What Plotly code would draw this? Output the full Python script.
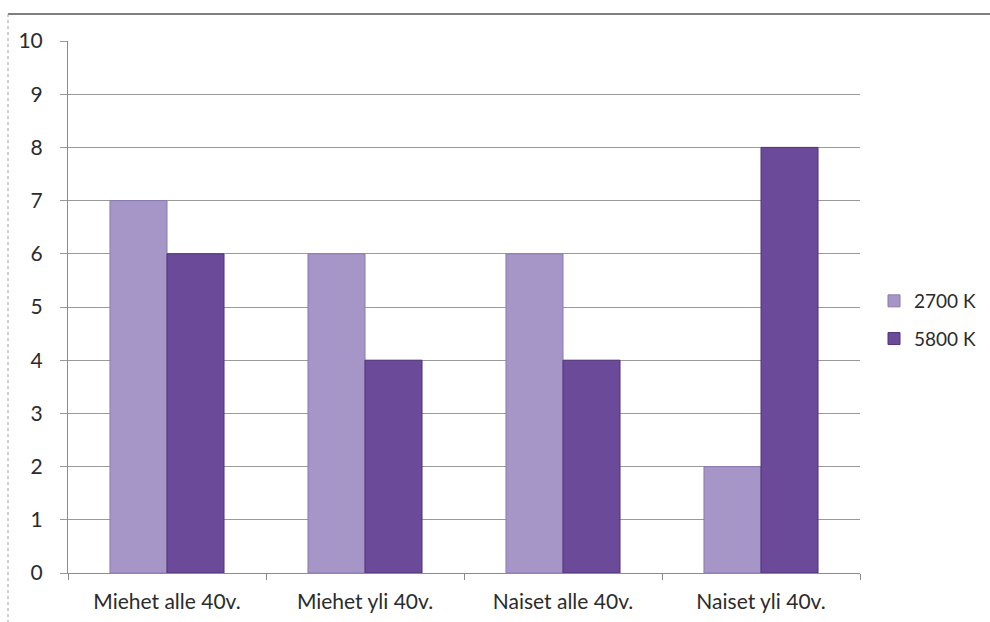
import plotly.graph_objects as go

# Survey groups and the two lighting conditions
categories = ["Miehet alle 40v.", "Miehet yli 40v.", "Naiset alle 40v.", "Naiset yli 40v."]
series_names = ["2700 K", "5800 K"]
values_2700 = [7, 6, 6, 2]
values_5800 = [6, 4, 4, 8]
y_ticks = list(range(0, 11))

colors = ["#A696C7", "#6B4B99"]
edge_colors = ["#8A7AAE", "#4F3578"]

fig = go.Figure()
for name, vals, col, edge in zip(series_names, [values_2700, values_5800], colors, edge_colors):
    fig.add_trace(go.Bar(
        x=categories, y=vals, name=name, legendgroup=name,
        marker=dict(color=col, line=dict(color=edge, width=1)),
    ))

font_family = "Lato, 'Open Sans', sans-serif"
W, H = 990, 622
L, R, T, B = 68, 130, 41, 49
pw, ph = W - L - R, H - T - B

def px_to_paper_x(px):
    return (px - L) / pw

def px_to_paper_y(py):
    return (H - B - py) / ph

fig.update_layout(
    width=W, height=H,
    margin=dict(l=L, r=R, t=T, b=B, autoexpand=False),
    paper_bgcolor="white", plot_bgcolor="white",
    barmode="group", bargap=0.424, bargroupgap=0,
    font=dict(family=font_family, size=20, color="#2b2b2b"),
    showlegend=True,
    legend=dict(
        x=px_to_paper_x(874), y=px_to_paper_y(320), xanchor="left", yanchor="middle",
        font=dict(size=19, color="#2b2b2b"), bgcolor="rgba(0,0,0,0)",
        itemwidth=30, traceorder="grouped", tracegroupgap=10,
    ),
    xaxis=dict(
        type="category", showgrid=False, showline=True, linecolor="#8c8c8c", linewidth=1,
        ticks="outside", tickson="boundaries", ticklen=6, tickcolor="#8c8c8c",
        tickfont=dict(size=21, color="#2b2b2b"), ticklabelstandoff=10,
    ),
    yaxis=dict(
        range=[0, 10], tickvals=y_ticks, showgrid=True, gridcolor="#9a9a9a", gridwidth=1,
        showline=True, linecolor="#8c8c8c", linewidth=1,
        ticks="outside", ticklen=7, tickcolor="#9a9a9a",
        tickfont=dict(size=21, color="#2b2b2b"), zeroline=False, ticklabelstandoff=13,
    ),
    shapes=[
        # outer frame: solid top edge, dotted left edge
        dict(type="line", xref="paper", yref="paper",
             x0=px_to_paper_x(8), x1=px_to_paper_x(990), y0=px_to_paper_y(14), y1=px_to_paper_y(14),
             line=dict(color="#7f7f7f", width=2)),
        dict(type="line", xref="paper", yref="paper",
             x0=px_to_paper_x(8), x1=px_to_paper_x(8), y0=px_to_paper_y(14), y1=px_to_paper_y(622),
             line=dict(color="#a0a0a0", width=1, dash="dot")),
    ],
)

fig.write_html("out.html")
